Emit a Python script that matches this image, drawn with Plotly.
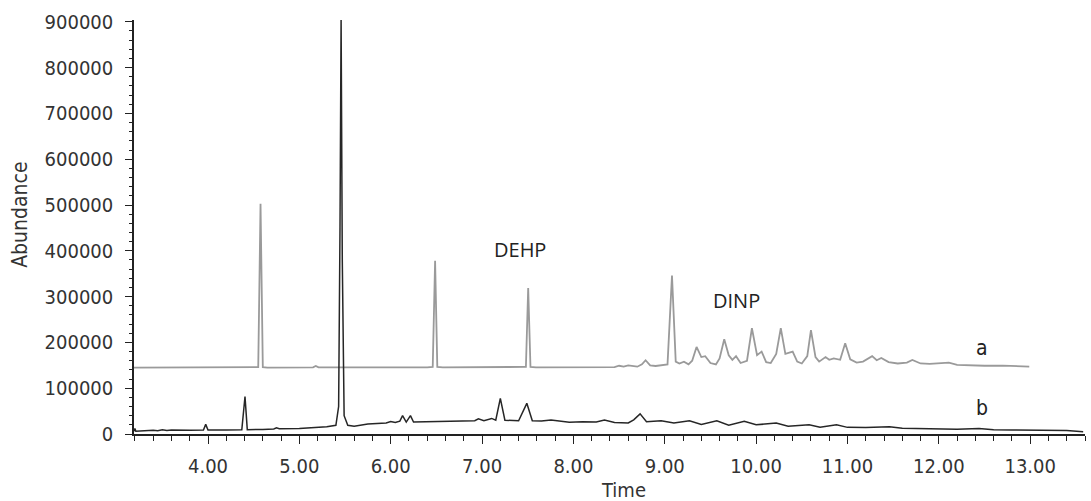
import plotly.graph_objects as go

# Trace a (grey, offset sample chromatogram)
a_time = [3.19, 4.50, 4.55, 4.575, 4.60, 4.65, 5.15, 5.18, 5.21, 6.40, 6.46, 6.486, 6.51, 6.57,
          7.42, 7.48, 7.505, 7.53, 7.59, 8.30, 8.40, 8.45, 8.50, 8.55, 8.60, 8.65, 8.70, 8.75,
          8.79, 8.84, 8.90, 9.03, 9.079, 9.12, 9.16, 9.21, 9.26, 9.30, 9.348, 9.40, 9.443, 9.50,
          9.56, 9.60, 9.651, 9.70, 9.74, 9.78, 9.83, 9.90, 9.954, 10.01, 10.06, 10.11, 10.16,
          10.22, 10.27, 10.32, 10.40, 10.45, 10.50, 10.56, 10.60, 10.65, 10.69, 10.76, 10.80,
          10.85, 10.92, 10.975, 11.03, 11.10, 11.17, 11.27, 11.32, 11.37, 11.45, 11.55, 11.65,
          11.71, 11.80, 11.90, 12.00, 12.11, 12.20, 12.35, 12.50, 12.70, 12.85, 12.99]
a_abund = [145000, 145000, 146000, 503000, 146000, 145000, 145500, 148500, 145500, 145500, 146500, 378000, 146500, 145500,
           145500, 146500, 319000, 146500, 145500, 145500, 147000, 146000, 149000, 147000, 150000, 148000, 147000, 152000,
           161000, 150000, 148500, 152000, 346000, 158000, 154000, 158000, 152000, 160000, 190000, 168000, 170000, 155000,
           152000, 165000, 207000, 172000, 162000, 170000, 155000, 160000, 231000, 172000, 180000, 157000, 155000,
           175000, 231000, 175000, 180000, 158000, 154000, 170000, 227000, 168000, 158000, 168000, 162000,
           165000, 162000, 198000, 163000, 156000, 158000, 170000, 161000, 166000, 157000, 154000, 156000,
           161500, 154000, 153000, 154000, 156000, 151000, 150000, 149000, 149500, 148000, 147000]

# Trace b (black)
b_time = [3.19, 3.20, 3.21, 3.30, 3.40, 3.45, 3.50, 3.55, 3.60, 3.80, 3.95, 3.975, 4.00, 4.20, 4.37,
          4.405, 4.43, 4.60, 4.72, 4.75, 4.78, 5.00, 5.30, 5.40, 5.43, 5.445, 5.457, 5.47, 5.49, 5.53,
          5.60, 5.75, 5.84, 5.95, 6.00, 6.05, 6.10, 6.13, 6.17, 6.216, 6.25, 6.40, 6.60, 6.80, 6.92,
          6.96, 7.02, 7.105, 7.15, 7.20, 7.25, 7.40, 7.49, 7.55, 7.65, 7.755, 7.85, 7.955, 8.10, 8.25,
          8.34, 8.45, 8.60, 8.66, 8.73, 8.80, 8.96, 9.10, 9.27, 9.40, 9.57, 9.70, 9.87, 10.00, 10.22,
          10.35, 10.58, 10.70, 10.88, 11.00, 11.20, 11.46, 11.60, 11.80, 12.00, 12.20, 12.44, 12.60,
          12.80, 13.00, 13.20, 13.40, 13.58]
b_abund = [6000, 12000, 6000, 7000, 8000, 7000, 9000, 7500, 8500, 8000, 8500, 21000, 8500, 8500, 9000,
           82000, 9500, 10000, 11000, 13500, 11500, 12000, 16000, 19000, 60000, 450000, 906000, 380000, 40000, 19000,
           17000, 22000, 23000, 24000, 27000, 25000, 28000, 40000, 26000, 40000, 26000, 27000, 28000, 29000, 29000,
           33000, 29000, 34000, 30000, 78000, 30000, 29000, 67000, 29000, 28500, 30500, 28000, 25500, 27000, 26000,
           30500, 25000, 24000, 31000, 44000, 27000, 29000, 24000, 29000, 21000, 29000, 19000, 28000, 20000, 24000,
           17000, 20000, 15000, 20000, 14500, 14000, 16000, 12500, 11500, 10500, 10500, 12000, 9500,
           9000, 8500, 8000, 7500, 5000]

x_tickvals = [4, 5, 6, 7, 8, 9, 10, 11, 12, 13]
x_ticktext = ["4.00", "5.00", "6.00", "7.00", "8.00", "9.00", "10.00", "11.00", "12.00", "13.00"]
y_tickvals = [0, 100000, 200000, 300000, 400000, 500000, 600000, 700000, 800000, 900000]
y_ticktext = ["0", "100000", "200000", "300000", "400000", "500000", "600000", "700000", "800000", "900000"]

# label texts and positions (data coords)
peak_labels = ["DEHP", "DINP"]
peak_label_x = [7.41, 9.78]
peak_label_y = [402000, 291000]
trace_labels = ["a", "b"]
trace_label_x = [12.47, 12.47]
trace_label_y = [187000, 57000]

NARROW = "DejaVu Sans Condensed, Liberation Sans Narrow, sans-serif"

fig = go.Figure()
fig.add_trace(go.Scatter(x=a_time, y=a_abund, mode="lines",
                         line=dict(color="#9a9a9a", width=1.8), name="a"))
fig.add_trace(go.Scatter(x=b_time, y=b_abund, mode="lines",
                         line=dict(color="#262626", width=1.5), name="b"))

annotations = []
for t, x, y in zip(peak_labels, peak_label_x, peak_label_y):
    annotations.append(dict(text=t, x=x, y=y, xref="x", yref="y", showarrow=False,
                            font=dict(family="Open Sans", size=20, color="#222222"),
                            xanchor="center", yanchor="middle"))
for t, x, y in zip(trace_labels, trace_label_x, trace_label_y):
    annotations.append(dict(text=t, x=x, y=y, xref="x", yref="y", showarrow=False,
                            font=dict(family=NARROW, size=21, color="#222222"),
                            xanchor="center", yanchor="middle"))
annotations.append(dict(text="Time", x=0.515, y=-0.135, xref="paper", yref="paper", showarrow=False,
                        font=dict(family=NARROW, size=20, color="#333333"),
                        xanchor="center", yanchor="middle"))
annotations.append(dict(text="Abundance", x=-0.12, y=0.529, xref="paper", yref="paper", showarrow=False,
                        textangle=-90,
                        font=dict(family=NARROW, size=21, color="#333333"),
                        xanchor="center", yanchor="middle"))

fig.update_layout(
    width=1091, height=501,
    margin=dict(l=134, r=6, t=20, b=67),
    paper_bgcolor="white", plot_bgcolor="white",
    showlegend=False,
    annotations=annotations,
    xaxis=dict(range=[3.19, 13.6], showgrid=False, zeroline=False,
               showline=True, linecolor="#222222", linewidth=1.5,
               tickmode="array", tickvals=x_tickvals, ticktext=x_ticktext,
               ticks="outside", ticklen=8, tickwidth=1.3, tickcolor="#222222",
               minor=dict(dtick=0.2, tick0=0, ticks="outside", ticklen=5, tickwidth=1, tickcolor="#222222"),
               tickfont=dict(family=NARROW, size=20, color="#333333"),
               ticklabelstandoff=5),
    yaxis=dict(range=[0, 904000], showgrid=False, zeroline=False,
               showline=True, linecolor="#222222", linewidth=1.5,
               tickmode="array", tickvals=y_tickvals, ticktext=y_ticktext,
               ticks="outside", ticklen=7, tickwidth=1.3, tickcolor="#222222",
               minor=dict(dtick=20000, tick0=0, ticks="outside", ticklen=3, tickwidth=1, tickcolor="#222222"),
               tickfont=dict(family=NARROW, size=20, color="#333333"),
               ticklabelstandoff=8),
)

fig.write_html("out.html", config={"displayModeBar": False},
               post_script="document.body.style.margin='0';")
